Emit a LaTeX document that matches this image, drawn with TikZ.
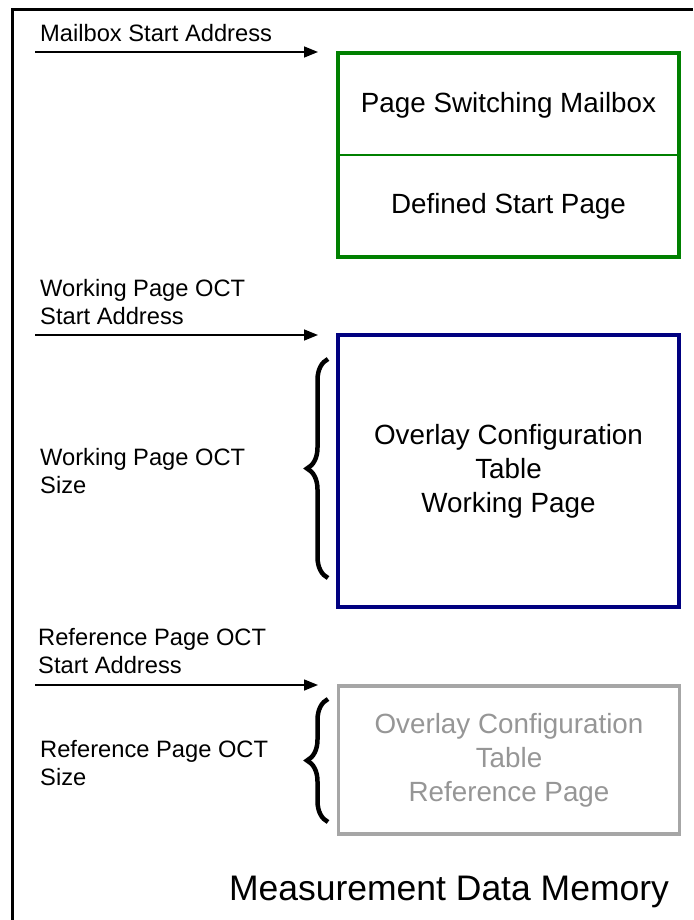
\documentclass[tikz,border=0pt]{standalone}
\usepackage{fontspec}
\setmainfont{Liberation Sans}
\usetikzlibrary{arrows.meta,decorations.pathreplacing}

\definecolor{mbgreen}{RGB}{0,128,0}
\definecolor{wpnavy}{RGB}{0,0,128}
\definecolor{rpgrey}{RGB}{166,166,166}
\definecolor{rptext}{RGB}{150,150,150}

\tikzset{
  lbl/.style={anchor=west, align=left, inner sep=0pt,
    font=\fontsize{23.7}{28}\selectfont},
  memblock/.style={draw, rectangle, inner sep=0pt, align=center,
    font=\fontsize{27.8}{34}\selectfont},
  addrarrow/.style={line width=1.5pt, -{Triangle[length=14pt,width=11pt]}},
  sizebrace/.style={line width=4.5pt, decorate,
    decoration={brace, amplitude=21pt}},
}

\begin{document}
\begin{tikzpicture}[x=1pt, y=-1pt]
\useasboundingbox (0,0) rectangle (693,920);

% memory frame, running off the right and bottom edges
\draw[line width=3pt] (12,920) -- (12,10) -- (693,10);

% page switching mailbox
\node[memblock, draw=mbgreen, line width=4pt,
      minimum width=341pt, minimum height=204pt] (mbox) at (508.5,155) {};
\draw[mbgreen, line width=1.2pt] (mbox.west) -- (mbox.east);
\node[font=\fontsize{27.8}{34}\selectfont] (mtop) at (508.5,105) {Page Switching Mailbox};
\node[font=\fontsize{27.8}{34}\selectfont] (mbot) at (508.5,206) {Defined Start Page};

\node[lbl, anchor=base west] (mlbl) at (40,42) {Mailbox Start Address};
\coordinate (ms) at (35,52);
\coordinate (me) at (318,52);
\draw[addrarrow] (ms) -- (me);

% working page OCT
\node[memblock, draw=wpnavy, line width=3.5pt,
      minimum width=341pt, minimum height=272pt] (wbox) at (508.5,471)
  {Overlay Configuration\\Table\\Working Page};

\node[lbl] (wslbl) at (40,302) {Working Page OCT\\Start Address};
\coordinate (ws) at (35,335);
\coordinate (we) at (318,335);
\draw[addrarrow] (ws) -- (we);

\node[lbl] (wzlbl) at (40,471) {Working Page OCT\\Size};
\coordinate (wb1) at (328,578);
\coordinate (wb2) at (328,359);
\draw[sizebrace] (wb1) -- (wb2);

% reference page OCT
\node[memblock, draw=rpgrey, text=rptext, line width=3.5pt,
      minimum width=341pt, minimum height=148pt] (rbox) at (509,760)
  {Overlay Configuration\\Table\\Reference Page};

\node[lbl] (rslbl) at (38,651) {Reference Page OCT\\Start Address};
\coordinate (rs) at (35,685);
\coordinate (re) at (318,685);
\draw[addrarrow] (rs) -- (re);

\node[lbl] (rzlbl) at (40,763) {Reference Page OCT\\Size};
\coordinate (rb1) at (328,822);
\coordinate (rb2) at (328,699);
\draw[sizebrace] (rb1) -- (rb2);

% caption
\node[font=\fontsize{35.5}{42}\selectfont, anchor=base] (title) at (449,900)
  {Measurement Data Memory};
\end{tikzpicture}
\end{document}
